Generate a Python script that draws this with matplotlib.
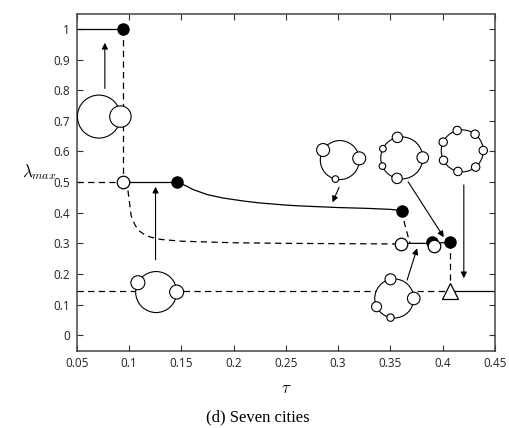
import matplotlib
matplotlib.use("Agg")
import matplotlib.pyplot as plt
from matplotlib.patches import Circle
from matplotlib.transforms import ScaledTranslation
import numpy as np

# data
tau_top = [0.05, 0.094]
lam_top = [1.0, 1.0]
tau_drop = [0.094, 0.094]
lam_drop = [1.0, 0.5]
tau_half_dash = [0.05, 0.094]
lam_half_dash = [0.5, 0.5]
tau_half_solid = [0.094, 0.146]
lam_half_solid = [0.5, 0.5]

tau_stable = [0.146, 0.155, 0.161, 0.175, 0.19, 0.21, 0.225, 0.25, 0.265, 0.3, 0.33, 0.35, 0.361]
lam_stable = [0.5, 0.487, 0.476, 0.459, 0.448, 0.438, 0.432, 0.425, 0.422, 0.417, 0.414, 0.411, 0.407]

tau_unstable = [0.094, 0.097, 0.099, 0.1005, 0.102, 0.104, 0.106, 0.110, 0.115, 0.12, 0.13, 0.15, 0.2, 0.25, 0.3, 0.36]
lam_unstable = [0.5, 0.495, 0.47, 0.43, 0.39, 0.372, 0.358, 0.34, 0.328, 0.321, 0.313, 0.307, 0.302, 0.300, 0.299, 0.298]

tau_link = [0.361, 0.364, 0.369]
lam_link = [0.407, 0.36, 0.298]
tau_low = [0.36, 0.392, 0.4076]
lam_low = [0.30, 0.30, 0.304]
tau_last = [0.4076, 0.4076]
lam_last = [0.304, 0.1429]
tau_seven_dash = [0.05, 0.4076]
tau_seven_solid = [0.4076, 0.45]
lam_seven = 1.0 / 7

filled_tau = [0.094, 0.146, 0.361, 0.390, 0.4076]
filled_lam = [1.0, 0.5, 0.407, 0.306, 0.304]
open_tau = [0.094, 0.36, 0.392]
open_lam = [0.5, 0.298, 0.292]

# city sketches: centre (tau, lam), ring radius px, list of (angle deg, radius px)
sketches = [
    ((0.0711, 0.714), 21.5, [(0, 10.7)]),
    ((0.1259, 0.141), 20.5, [(153, 7), (0, 7)]),
    ((0.3017, 0.572), 19.5, [(149, 6.5), (5, 6.5), (-103, 3.3)]),
    ((0.3610, 0.579), 21, [(102, 5.2), (1, 5.8), (-103, 5.2), (154, 3.3), (-157, 3.3)]),
    ((0.4189, 0.602), 21, [(1 + k * 360 / 7, 4.2) for k in range(7)]),
    ((0.3538, 0.120), 19.5, [(101, 5.5), (0, 6.3), (-155, 5), (-101, 3.7)]),
]
# the first sketch: big ring is the city itself, small city sits on its right
arrows = [
    ((0.0768, 0.806), (0.0768, 0.955)),
    ((0.1253, 0.246), (0.1253, 0.485)),
    ((0.301, 0.483), (0.2947, 0.434)),
    ((0.3671, 0.501), (0.4012, 0.320)),
    ((0.4204, 0.491), (0.4204, 0.186)),
    ((0.3661, 0.180), (0.3757, 0.284)),
]

plt.rcParams['mathtext.fontset'] = 'cm'
fig = plt.figure(figsize=(5.09, 4.28), dpi=100)
ax = fig.add_axes([0.151, 0.181, 0.821, 0.787])

lw = 0.9
dash = (0, (5, 3.5))
k = 'black'
ax.plot(tau_top, lam_top, color=k, lw=lw)
ax.plot(tau_drop, lam_drop, color=k, lw=lw, ls=dash)
ax.plot(tau_half_dash, lam_half_dash, color=k, lw=lw, ls=dash)
ax.plot(tau_half_solid, lam_half_solid, color=k, lw=lw)
ax.plot(tau_stable, lam_stable, color=k, lw=lw)
ax.plot(tau_unstable, lam_unstable, color=k, lw=lw, ls=dash)
ax.plot(tau_link, lam_link, color=k, lw=lw, ls=dash)
ax.plot(tau_low, lam_low, color=k, lw=lw)
ax.plot(tau_last, lam_last, color=k, lw=lw, ls=dash)
ax.plot(tau_seven_dash, [lam_seven, lam_seven], color=k, lw=lw, ls=dash)
ax.plot(tau_seven_solid, [lam_seven, lam_seven], color=k, lw=lw)

ax.plot(filled_tau, filled_lam, 'o', ms=8, mfc=k, mec=k, zorder=5)
ax.plot(open_tau, open_lam, 'o', ms=9, mfc='white', mec=k, mew=0.9, zorder=6)
ax.plot([0.4076], [lam_seven], '^', ms=11, mfc='white', mec=k, mew=0.9, zorder=6)

for (cx, cy), R, cities in sketches:
    tr = fig.dpi_scale_trans + ScaledTranslation(cx, cy, ax.transData)
    ax.add_patch(Circle((0, 0), R / 100, transform=tr, fc='white', ec=k, lw=0.8, zorder=7))
    for ang, r in cities:
        a = np.deg2rad(ang)
        ax.add_patch(Circle((R / 100 * np.cos(a), R / 100 * np.sin(a)), r / 100,
                            transform=tr, fc='white', ec=k, lw=0.8, zorder=8))

for start, end in arrows:
    ax.annotate('', xy=end, xytext=start,
                arrowprops=dict(arrowstyle='-|>', lw=0.8, color=k, mutation_scale=9,
                                shrinkA=0, shrinkB=0), zorder=9)

ax.set_xlim(0.05, 0.45)
ax.set_ylim(-0.05, 1.05)
ax.set_xticks(np.arange(0.05, 0.451, 0.05))
ax.set_xticklabels(['0.05', '0.1', '0.15', '0.2', '0.25', '0.3', '0.35', '0.4', '0.45'])
ax.set_yticks(np.arange(0, 1.01, 0.1))
ax.set_yticklabels(['0', '0.1', '0.2', '0.3', '0.4', '0.5', '0.6', '0.7', '0.8', '0.9', '1'])
ax.tick_params(direction='in', top=True, right=True, length=4, width=0.8, color='#333333',
               labelsize=8.5, pad=5)
for lab in ax.get_xticklabels() + ax.get_yticklabels():
    lab.set_family('Open Sans')
    lab.set_color('#222222')
for s in ax.spines.values():
    s.set_color('#444444')
    s.set_linewidth(1.1)

ax.set_xlabel(r'$\tau$', fontsize=12, labelpad=6)
ax.set_ylabel(r'$\lambda_{max}$', fontsize=12, rotation=0, labelpad=4)
ax.yaxis.set_label_coords(-0.09, 0.5)

fig.text(0.507, 0.024, '(d) Seven cities', family='Liberation Serif', fontsize=12,
         ha='center', va='center')

fig.savefig('out.png', dpi=100)
